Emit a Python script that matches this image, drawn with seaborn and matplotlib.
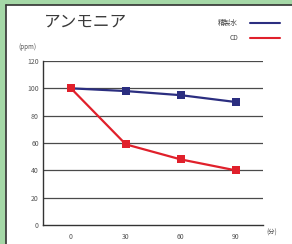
import matplotlib
matplotlib.use("Agg")
import matplotlib.pyplot as plt
from matplotlib.lines import Line2D
from matplotlib.patches import Rectangle
import pandas as pd
import seaborn as sns

# data
minutes = [0, 30, 60, 90]
water = [100, 98, 95, 90]
cd = [100, 59, 48, 40]
series_names = ["精製水", "CD"]
y_ticks = [0, 20, 40, 60, 80, 100, 120]

df = pd.DataFrame({
    "min": minutes * 2,
    "ppm": water + cd,
    "series": [series_names[0]] * 4 + [series_names[1]] * 4,
})
colors = {"精製水": "#2b2e80", "CD": "#e0202b"}

sns.set_style("white")
plt.rcParams["font.family"] = ["Noto Sans CJK JP", "DejaVu Sans"]

fig = plt.figure(figsize=(2.92, 2.44), dpi=100)
fig.patch.set_facecolor("white")
# green frame on top and left, with dark shadow line
fig.patches.append(Rectangle((0, 1 - 4 / 244), 1, 4 / 244, transform=fig.transFigure,
                             color="#a5d8a7", zorder=0))
fig.patches.append(Rectangle((0, 0), 5 / 292, 1, transform=fig.transFigure,
                             color="#a5d8a7", zorder=0))
fig.add_artist(Line2D([5.5 / 292, 5.5 / 292], [0, 1 - 4.5 / 244], transform=fig.transFigure,
                      color="#333333", lw=1.2))
fig.add_artist(Line2D([5.5 / 292, 1], [1 - 4.5 / 244, 1 - 4.5 / 244], transform=fig.transFigure,
                      color="#333333", lw=1.2))

ax = fig.add_axes([43 / 292, 19 / 244, 220 / 292, 164 / 244])
ax.set_facecolor("none")

for y in y_ticks[1:]:
    ax.axhline(y, color="#4a4a4a", lw=0.9, zorder=1)

sns.lineplot(data=df, x="min", y="ppm", hue="series", palette=colors,
             marker="s", markersize=5.8, markeredgewidth=0, linewidth=1.6,
             legend=False, ax=ax, zorder=3)

ax.set_xlim(-15.3, 104.7)
ax.set_ylim(0, 120)
ax.set_xticks(minutes)
ax.set_xticks([15, 45, 75, 105], minor=True)
ax.set_yticks(y_ticks)
ax.tick_params(axis="x", which="major", length=0, labelsize=5, labelcolor="#555555", pad=6)
ax.tick_params(axis="x", which="minor", length=3, width=0.8, direction="in", color="#333333")
ax.tick_params(axis="y", length=0, labelsize=5, labelcolor="#555555", pad=3)
ax.set_xlabel("")
ax.set_ylabel("")
for side in ["top", "right"]:
    ax.spines[side].set_visible(False)
for side in ["left", "bottom"]:
    ax.spines[side].set_color("#333333")
    ax.spines[side].set_linewidth(1.0)

fig.text(44 / 292, 1 - 22 / 244, "アンモニア", fontsize=12, color="#3a3a3a", va="center", ha="left")
fig.text(18 / 292, 1 - 47 / 244, "(ppm)", fontsize=4.5, color="#555555", va="center", ha="left")
fig.text(266 / 292, 1 - 233 / 244, "(分)", fontsize=4.5, color="#555555", va="center", ha="left")

handles = [Line2D([], [], color=colors[n], lw=1.5) for n in series_names]
fig.legend(handles, series_names, loc="upper right", bbox_to_anchor=(280 / 292, 1 - 19 / 244),
           markerfirst=False, frameon=False, fontsize=4.8, handlelength=4.5,
           handletextpad=1.8, labelspacing=1.1, labelcolor="#444444",
           borderpad=0, borderaxespad=0)

fig.savefig("out.png", dpi=100)
